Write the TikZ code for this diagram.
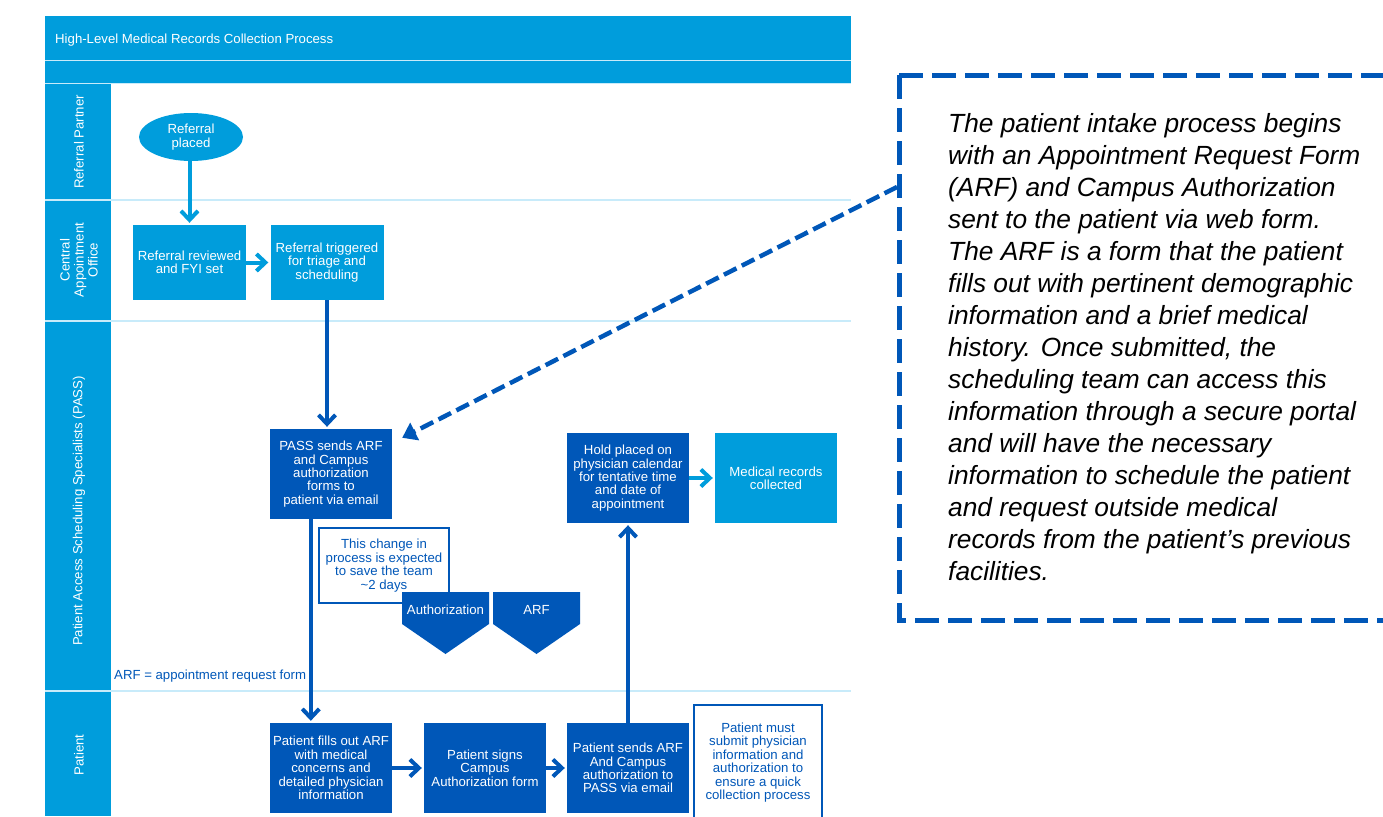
\documentclass[tikz,border=0pt]{standalone}
\usepackage{fontspec}
\setmainfont{Liberation Sans}
\usetikzlibrary{arrows.meta,calc,shapes.geometric}
\definecolor{lb}{RGB}{0,157,220}
\definecolor{db}{RGB}{0,87,184}
\definecolor{ll}{RGB}{200,235,250}
\begin{document}
\begin{tikzpicture}[x=1pt,y=-1pt,
  every node/.style={font=\fontsize{13.2}{13.4}\selectfont, inner sep=0pt},
  lbox/.style={fill=lb, text=white, minimum width=113pt, minimum height=75pt, align=center},
  dbox/.style={fill=db, text=white, minimum width=122pt, minimum height=90pt, align=center},
  wbox/.style={draw=db, line width=2pt, fill=white, text=db, align=center},
  lane/.style={text=white, rotate=90, align=center},
  arrl/.style={lb, line width=4pt, shorten >=2pt, -{Straight Barb[length=9pt,width=17pt]}},
  arrd/.style={db, line width=4pt, shorten >=2pt, -{Straight Barb[length=9pt,width=17pt]}},
  sep/.style={ll, line width=1.2pt}
]
\useasboundingbox (0,0) rectangle (1383,816);
% title bars
\fill[lb] (45,16) rectangle (851,84);
\draw[sep] (45,60.5) -- (851,60.5);
\draw[sep] (45,83.5) -- (851,83.5);
\node[text=white, anchor=west] (title) at (55,40) {High-Level Medical Records Collection Process};
% lane header column
\fill[lb] (45,84) rectangle (111,816);
\draw[sep] (45,200) -- (851,200);
\draw[sep] (45,321) -- (851,321);
\draw[sep] (45,691) -- (851,691);
\node[lane] (l1) at (79,142) {Referral Partner};
\node[lane, font=\fontsize{13.2}{14}\selectfont] (l2) at (79,260) {Central\\Appointment\\Office};
\node[lane] (l3) at (79,511) {Patient Access Scheduling Specialists (PASS)};
\node[lane] (l4) at (79,755) {Patient};
% nodes
\node[ellipse, fill=lb, text=white, minimum width=104pt, minimum height=48pt, align=center] (placed) at (191,137) {Referral\\placed};
\node[lbox] (reviewed) at (189.5,262.5) {Referral reviewed\\and FYI set};
\node[lbox] (triggered) at (327,262.5) {Referral triggered\\for triage and\\scheduling};
\node[dbox] (pass) at (331,474) {PASS sends ARF\\and Campus\\authorization\\forms to\\patient via email};
\node[dbox] (hold) at (628,478) {Hold placed on\\physician calendar\\for tentative time\\and date of\\appointment};
\node[lbox, minimum width=122pt, minimum height=90pt] (medical) at (776,478) {Medical records\\collected};
\node[dbox] (fills) at (331,768) {Patient fills out ARF\\with medical\\concerns and\\detailed physician\\information};
\node[dbox] (signs) at (485,768) {Patient signs\\Campus\\Authorization form};
\node[dbox] (sends) at (628,768) {Patient sends ARF\\And Campus\\authorization to\\PASS via email};
\node[wbox, minimum width=128pt, minimum height=115pt] (must) at (758,762.5) {Patient must\\submit physician\\information and\\authorization to\\ensure a quick\\collection process};
\node[wbox, minimum width=130pt, minimum height=75pt] (note) at (384,565.5) {This change in\\process is expected\\to save the team\\\textasciitilde 2 days};
% pentagon arrows
\fill[db] (402,592) -- (489,592) -- (489,624) -- (445.5,654) -- (402,624) -- cycle;
\fill[db] (493,592) -- (580,592) -- (580,624) -- (536.5,654) -- (493,624) -- cycle;
\node[text=white] (auth) at (445.5,610) {Authorization};
\node[text=white] (arf) at (536.5,610) {ARF};
\node[text=db, anchor=west] (legend) at (114,676) {ARF = appointment request form};
% connectors
\draw[arrl] (reviewed.north |- placed.south) -- (reviewed.north);
\draw[arrl] (reviewed) -- (triggered);
\draw[arrd] (triggered.south) -- (triggered.south |- pass.north);
\draw[arrd] ([xshift=41pt]pass.south west) -- ([xshift=41pt]fills.north west);
\draw[arrd] (fills) -- (signs);
\draw[arrd] (signs) -- (sends);
\draw[arrd] (sends) -- (hold);
\draw[arrl] (hold) -- (medical);
% callout
\draw[db, line width=5pt, dash pattern=on 24pt off 9pt] (899,75) -- (1392,75);
\draw[db, line width=5pt, dash pattern=on 24pt off 9pt] (899,75) -- (899,620) -- (1392,620);
\coordinate (cpt) at (897,187);
\coordinate (tip) at ($(pass.north east)+(10,9)$);
\draw[db, line width=4.5pt, dash pattern=on 14pt off 6pt, -{Triangle[length=14pt,width=19pt]}] (cpt) -- (tip);
\node[anchor=north west, align=left, font=\fontsize{26.3}{32}\selectfont\itshape] (callout) at (948,113) {The patient intake process begins\\with an Appointment Request Form\\(ARF) and Campus Authorization\\sent to the patient via web form.\\The ARF is a form that the patient\\fills out with pertinent demographic\\information and a brief medical\\history. Once submitted, the\\scheduling team can access this\\information through a secure portal\\and will have the necessary\\information to schedule the patient\\and request outside medical\\records from the patient’s previous\\facilities.};
\end{tikzpicture}
\end{document}
